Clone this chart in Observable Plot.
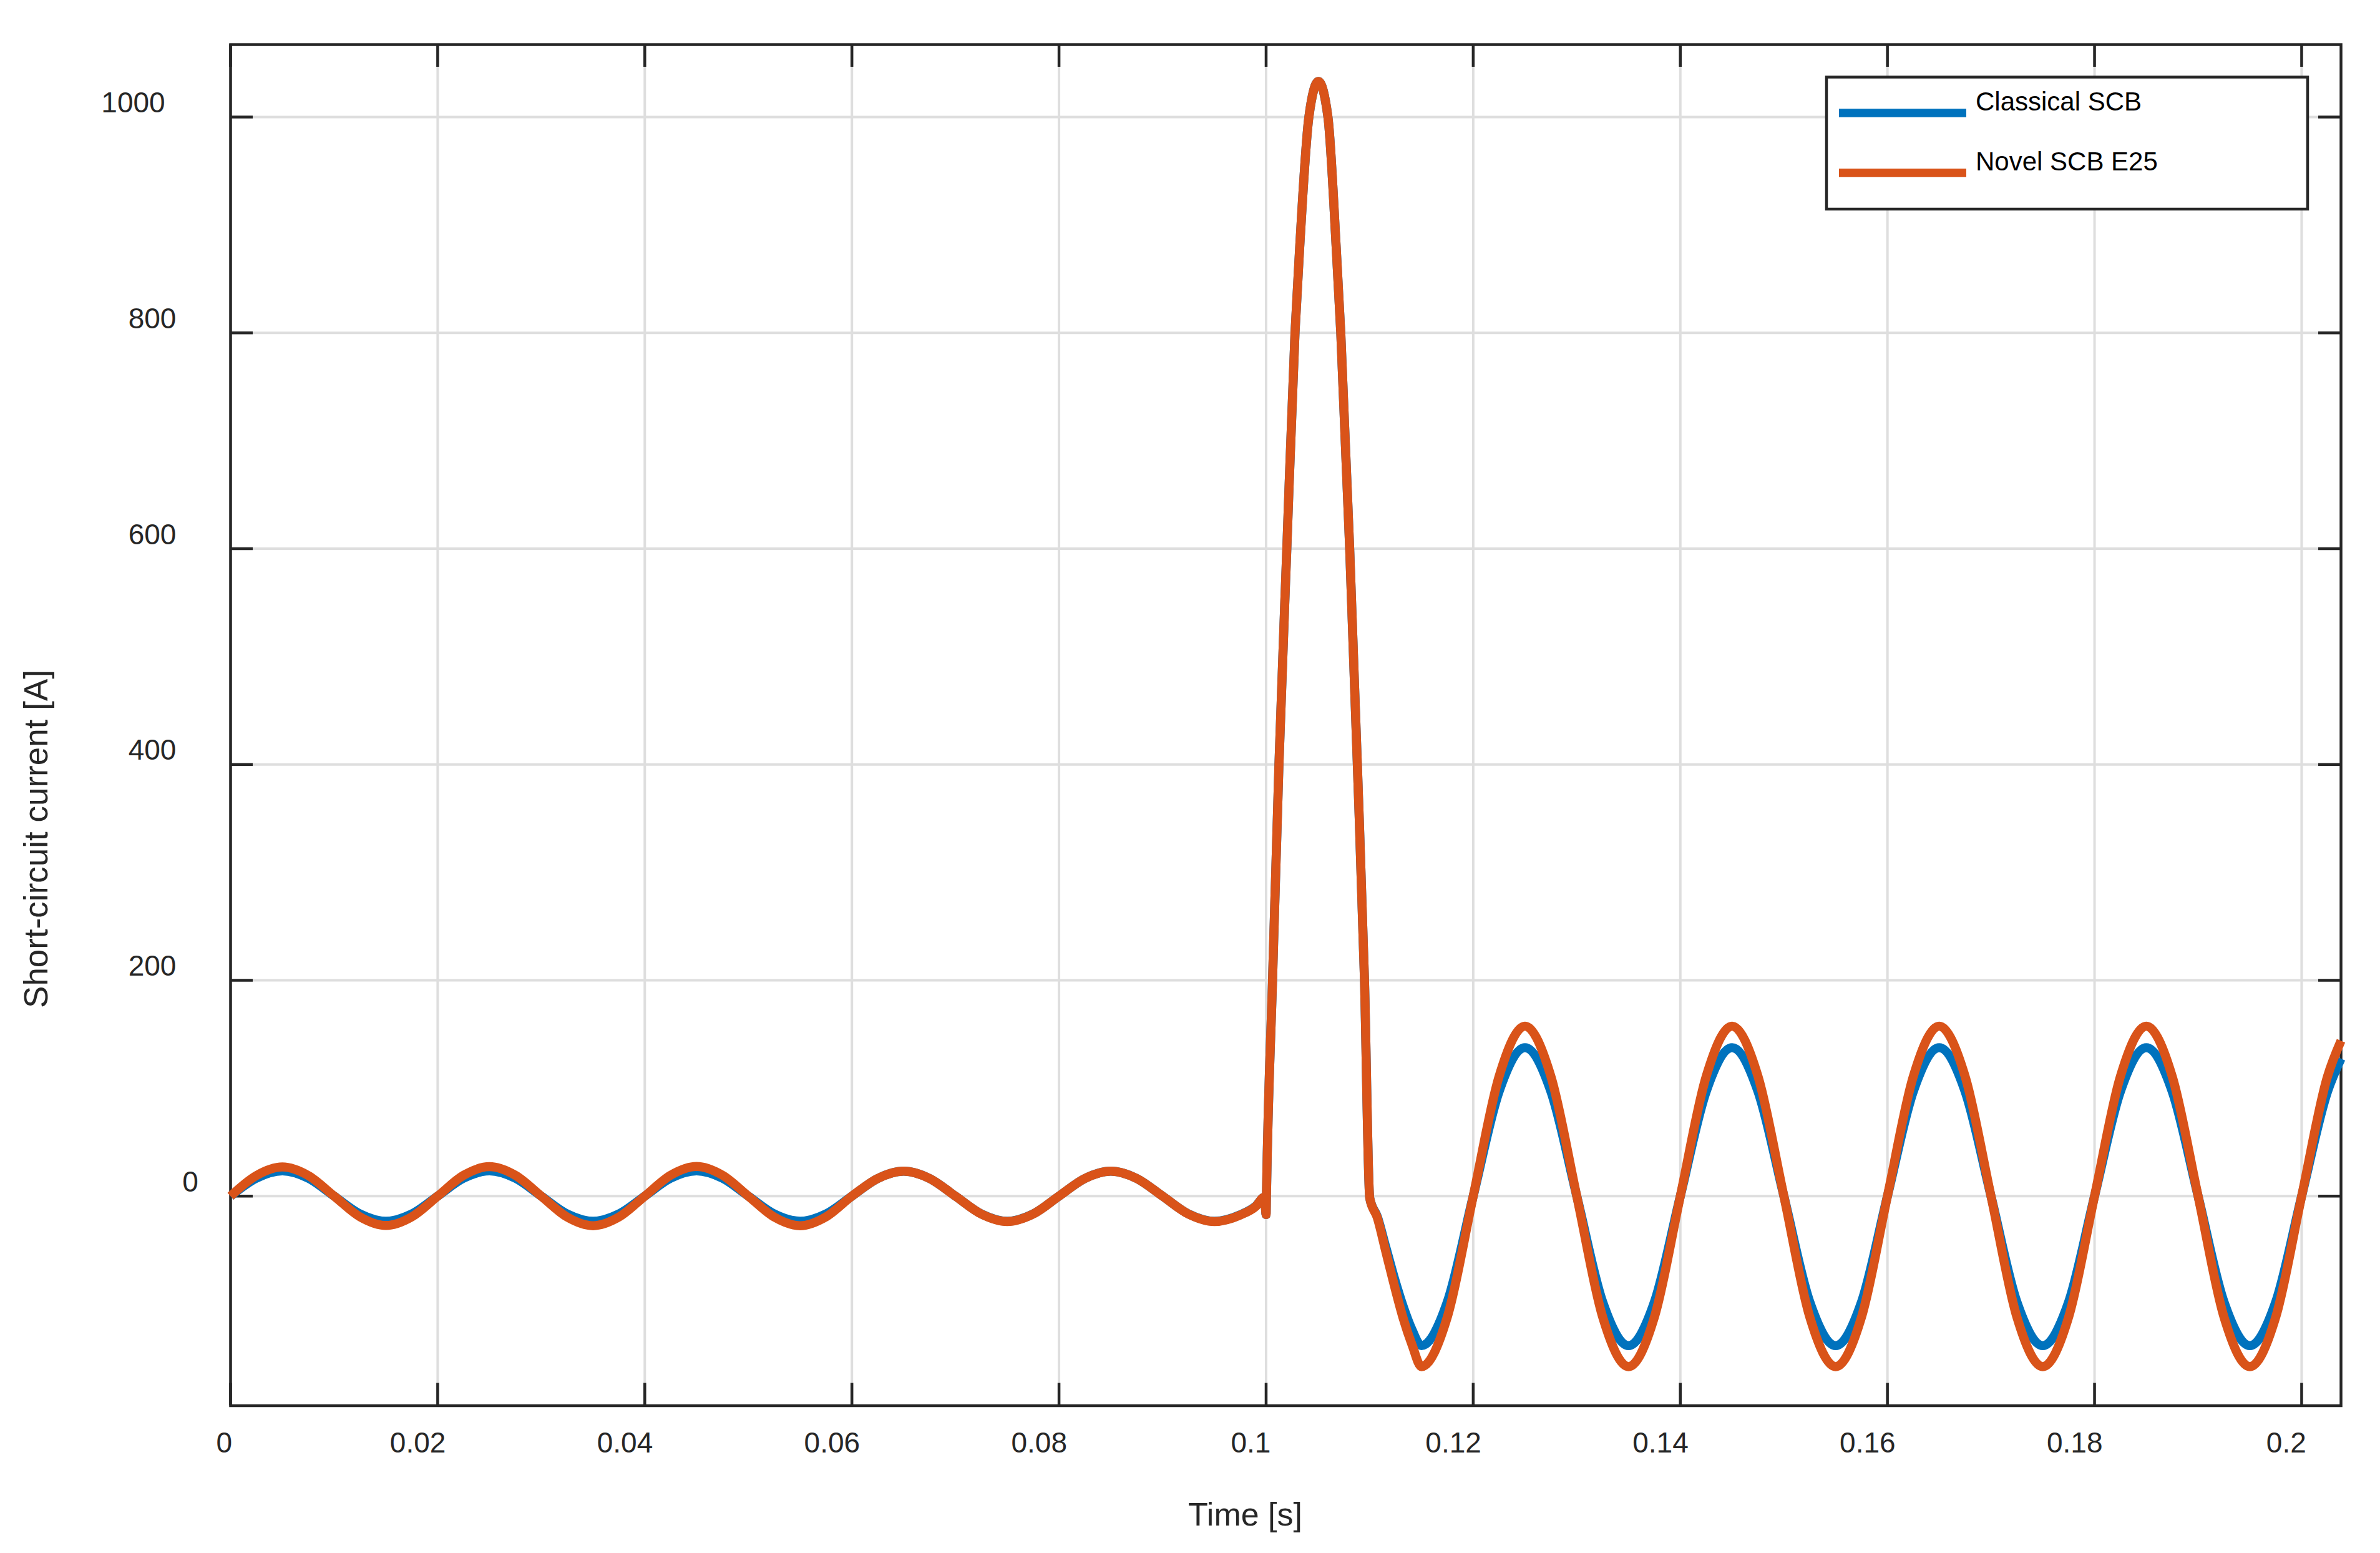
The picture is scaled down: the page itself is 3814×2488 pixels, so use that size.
<!DOCTYPE html>
<html>
<head>
<meta charset="utf-8">
<script src="https://cdn.jsdelivr.net/npm/d3@7"></script>
<script src="https://cdn.jsdelivr.net/npm/@observablehq/plot@0.6"></script>
<style>
  html, body { margin: 0; padding: 0; background: #ffffff; overflow: hidden; }
  #chart svg { display: block; }
</style>
</head>
<body>
<div id="chart"></div>
<script>
// ---- Data (time in s, current in A) ----
const time = [
  0, 0.0025, 0.005, 0.0075, 0.01, 0.0125, 0.015, 0.0175,
  0.02, 0.0225, 0.025, 0.0275, 0.03, 0.0325, 0.035, 0.0375,
  0.04, 0.0425, 0.045, 0.0475, 0.05, 0.0525, 0.055, 0.0575,
  0.06, 0.0625, 0.065, 0.0675, 0.07, 0.0725, 0.075, 0.0775,
  0.08, 0.0825, 0.085, 0.0875, 0.09, 0.0925, 0.095, 0.0975,
  0.099, 0.09985, 0.1, 0.10003, 0.10062, 0.10124, 0.102, 0.10279, 0.10323,
  0.10413, 0.10505, 0.10597, 0.10678, 0.10721, 0.10807, 0.10881, 0.1095,
  0.11001, 0.11074, 0.11155, 0.11236, 0.11323, 0.1141,
  0.115, 0.1175, 0.12, 0.1225, 0.125, 0.1275, 0.13, 0.1325,
  0.135, 0.1375, 0.14, 0.1425, 0.145, 0.1475, 0.15, 0.1525,
  0.155, 0.1575, 0.16, 0.1625, 0.165, 0.1675, 0.17, 0.1725,
  0.175, 0.1775, 0.18, 0.1825, 0.185, 0.1875, 0.19, 0.1925,
  0.195, 0.1975, 0.2, 0.2025, 0.2038
];

const classical = [
  0, 16.6, 23.4, 16.6, 0, -16.5, -23.3, -16.5,
  0, 16.6, 23.4, 16.6, 0, -16.5, -23.3, -16.5,
  0, 16.6, 23.4, 16.6, 0, -16.5, -23.3, -16.5,
  0, 16.4, 23.1, 16.4, 0, -16.5, -23.3, -16.5,
  0, 16.4, 23.1, 16.4, 0, -16.5, -23.3, -17.3,
  -9.3, -0.8, -17, 0, 200, 400, 600, 800, 877,
  1000, 1033, 1000, 877, 800, 600, 400, 200,
  -2, -19, -47, -75, -102, -124,
  -138.5, -98, 0, 97, 137.5, 97, 0, -98,
  -138.5, -98, 0, 97, 137.5, 97, 0, -98,
  -138.5, -98, 0, 97, 137.5, 97, 0, -98,
  -138.5, -98, 0, 97, 137.5, 97, 0, -98,
  -138.5, -98, 0, 97, 127.5
];

const novel = [
  0, 19.1, 27.0, 19.1, 0, -19.2, -27.2, -19.2,
  0, 19.3, 27.3, 19.3, 0, -19.4, -27.4, -19.4,
  0, 19.4, 27.5, 19.4, 0, -19.4, -27.4, -19.2,
  0, 16.4, 23.2, 16.4, 0, -16.6, -23.5, -16.6,
  0, 16.4, 23.2, 16.4, 0, -16.6, -23.5, -17.5,
  -9.5, -0.8, -17, 0, 200, 400, 600, 800, 877,
  1000, 1033, 1000, 877, 800, 600, 400, 200,
  -2, -20, -51, -82, -113, -138,
  -158, -112, 0, 111, 157.5, 111, 0, -112,
  -158, -112, 0, 111, 157.5, 111, 0, -112,
  -158, -112, 0, 111, 157.5, 111, 0, -112,
  -158, -112, 0, 111, 157.5, 111, 0, -112,
  -158, -112, 0, 111, 144
];

const seriesNames = ["Classical SCB", "Novel SCB E25"];
const seriesColors = ["#0072BD", "#D95319"];

const xTicks = [0, 0.02, 0.04, 0.06, 0.08, 0.1, 0.12, 0.14, 0.16, 0.18, 0.2];
const xTickLabels = ["0", "0.02", "0.04", "0.06", "0.08", "0.1", "0.12", "0.14", "0.16", "0.18", "0.2"];
const yTicks = [0, 200, 400, 600, 800, 1000];
const yTickLabels = ["0", "200", "400", "600", "800", "1000"];

const xLabel = "Time [s]";
const yLabel = "Short-circuit current [A]";

// ---- Layout ----
const W = 3814, H = 2488;
const mL = 369, mT = 71, mR = 63, mB = 236.5;
const plotW = W - mL - mR, plotH = H - mT - mB;
const ink = "#262626";
const font = "'Liberation Sans', Arial, Helvetica, sans-serif";
const tickLen = 36;

const marks = [
  Plot.gridX(xTicks, {stroke: "#dedede", strokeOpacity: 1, strokeWidth: 4}),
  Plot.gridY(yTicks, {stroke: "#dedede", strokeOpacity: 1, strokeWidth: 4}),
  Plot.frame({stroke: ink, strokeWidth: 4.5}),
  // inward ticks on all four sides
  Plot.tickX(xTicks, {x: d => d, stroke: ink, strokeWidth: 4.5, insetTop: plotH - tickLen}),
  Plot.tickX(xTicks, {x: d => d, stroke: ink, strokeWidth: 4.5, insetBottom: plotH - tickLen}),
  Plot.tickY(yTicks, {y: d => d, stroke: ink, strokeWidth: 4.5, insetRight: plotW - tickLen}),
  Plot.tickY(yTicks, {y: d => d, stroke: ink, strokeWidth: 4.5, insetLeft: plotW - tickLen}),
  // tick labels
  ...xTicks.map((v, i) => Plot.text([v], {
    x: d => d, text: () => xTickLabels[i], frameAnchor: "bottom",
    dy: 60.5, dx: -(3 + 7.2 * xTickLabels[i].length),
    textAnchor: "middle", lineAnchor: "middle", fontSize: 46, fill: ink
  })),
  ...yTicks.map((v, i) => Plot.text([v], {
    y: d => d, text: () => yTickLabels[i], frameAnchor: "left",
    dy: -22, dx: -(34 + 30.5 * yTickLabels[i].length),
    textAnchor: "middle", lineAnchor: "middle", fontSize: 46, fill: ink
  })),
  // x axis title
  Plot.text([xLabel], {text: d => d, frameAnchor: "bottom", dx: -65, dy: 175.5,
    lineAnchor: "middle", fontSize: 52, fill: ink}),
  // data lines
  Plot.line(time, {x: time, y: classical, stroke: seriesColors[0], strokeWidth: 14.5,
    curve: "monotone-x", strokeLinejoin: "round", strokeLinecap: "butt"}),
  Plot.line(time, {x: time, y: novel, stroke: seriesColors[1], strokeWidth: 14.5,
    curve: "monotone-x", strokeLinejoin: "round", strokeLinecap: "butt"})
];

const chart = Plot.plot({
  width: W,
  height: H,
  marginLeft: mL, marginTop: mT, marginRight: mR, marginBottom: mB,
  style: {fontFamily: font, fontSize: "46px", color: ink, background: "#ffffff"},
  x: {domain: [0, 0.2038], axis: null},
  y: {domain: [-194.2, 1067.1], axis: null},
  marks
});

const svg = d3.select(chart);

// ---- y axis title (rotated) ----
svg.append("text")
  .attr("transform", "translate(76,1344) rotate(-90)")
  .attr("text-anchor", "middle")
  .attr("font-family", font)
  .attr("font-size", 53)
  .attr("fill", ink)
  .text(yLabel);

// ---- Legend (inside the axes, top-right) ----
const lg = svg.append("g").attr("font-family", font).attr("text-anchor", "start");
lg.append("rect")
  .attr("x", 2927).attr("y", 123.5).attr("width", 771).attr("height", 211.5)
  .attr("fill", "#ffffff").attr("stroke", ink).attr("stroke-width", 4.5);
const rowLineY = [181, 277];
const rowTextY = [176.5, 273];
seriesNames.forEach((name, i) => {
  lg.append("line")
    .attr("x1", 2947).attr("x2", 3151).attr("y1", rowLineY[i]).attr("y2", rowLineY[i])
    .attr("stroke", seriesColors[i]).attr("stroke-width", 13.7);
  lg.append("text")
    .attr("x", 3166).attr("y", rowTextY[i])
    .attr("text-anchor", "start")
    .attr("font-size", 42).attr("fill", "#000000")
    .text(name);
});

document.getElementById("chart").appendChild(chart);
</script>
</body>
</html>
